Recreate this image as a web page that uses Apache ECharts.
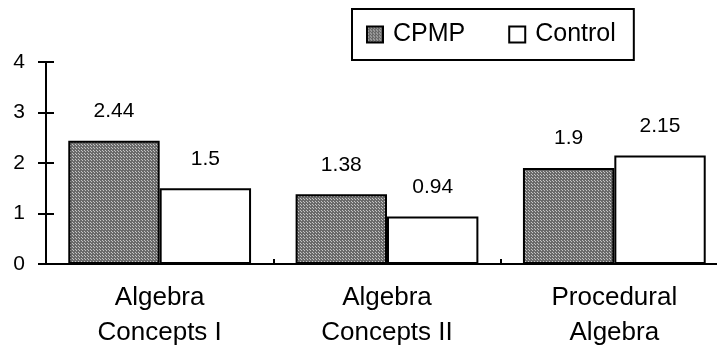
<!DOCTYPE html>
<html>
<head>
<meta charset="utf-8">
<script src="https://cdn.jsdelivr.net/npm/echarts@6/dist/echarts.min.js"></script>
<style>
    html, body { margin: 0; padding: 0; background: #fff; }
    #chart { width: 717px; height: 353px; }
</style>
</head>
<body>
<div id="chart"></div>
<script>
const categories = ["Algebra\nConcepts I", "Algebra\nConcepts II", "Procedural\nAlgebra"];
const cpmp = [2.44, 1.38, 1.9];
const control = [1.5, 0.94, 2.15];
const yTicks = [0, 1, 2, 3, 4];

// dotted grey fill like the old spreadsheet pattern
function makePattern() {
    const c = document.createElement("canvas");
    c.width = 3;
    c.height = 3;
    const ctx = c.getContext("2d");
    ctx.fillStyle = "#6a6a6a";
    ctx.fillRect(0, 0, 3, 3);
    ctx.fillStyle = "#c4c4c4";
    ctx.fillRect(1, 1, 1, 1);
    ctx.fillRect(0, 0, 1, 1);
    return { image: c, repeat: "repeat" };
}

const font = "Liberation Sans, Arial, sans-serif";
const gridW = 682;
const gridH = 202;
const chart = echarts.init(document.getElementById("chart"), null, { renderer: "canvas" });

const valueAxisBase = {
    type: "value",
    min: yTicks[0],
    max: yTicks[yTicks.length - 1],
    interval: 1,
    splitLine: { show: false },
};

const labelStyle = {
    show: true,
    position: "top",
    distance: 19,
    color: "#000",
    fontSize: 21,
    fontFamily: font,
};

chart.setOption({
    animation: false,
    legend: {
        left: 352,
        top: 9,
        padding: [13, 18, 13, 14],
        icon: "rect",
        itemWidth: 16,
        itemHeight: 16,
        itemGap: 43,
        borderColor: "#000",
        borderWidth: 2,
        textStyle: { color: "#000", fontSize: 25, fontFamily: font, padding: [0, 0, 0, 5] },
        data: ["CPMP", "Control"],
    },
    // the last category runs past the right edge of the picture, so no fitting
    grid: { left: 46, top: 62, width: gridW, height: gridH, outerBoundsMode: "none" },
    xAxis: [
        {
            type: "category",
            data: categories,
            position: "bottom",
            axisLine: { onZero: false, lineStyle: { color: "#000", width: 2 } },
            axisTick: { length: 8, lineStyle: { color: "#000", width: 2 } },
            axisLabel: {
                color: "#000",
                fontSize: 26,
                fontFamily: font,
                lineHeight: 35,
                margin: 16,
                interval: 0,
            },
        },
        {
            // second copy pulled down onto the baseline, for the upper half of the ticks
            type: "category",
            data: categories,
            position: "top",
            offset: -gridH,
            axisLine: { show: false, onZero: false },
            axisTick: { show: true, length: 5, lineStyle: { color: "#000", width: 2 } },
            axisLabel: { show: false },
        },
    ],
    yAxis: [
        Object.assign({}, valueAxisBase, {
            position: "left",
            axisLine: { show: true, onZero: false, lineStyle: { color: "#000", width: 2 } },
            axisTick: { show: true, length: 8, lineStyle: { color: "#000", width: 2 } },
            axisLabel: { color: "#000", fontSize: 21, fontFamily: font, margin: 21 },
        }),
        Object.assign({}, valueAxisBase, {
            // moved onto the left axis line, ticks pointing right
            position: "right",
            offset: -gridW,
            axisLine: { show: false, onZero: false },
            axisTick: { show: true, length: 8, lineStyle: { color: "#000", width: 2 } },
            axisLabel: { show: false },
        }),
    ],
    series: [
        {
            name: "CPMP",
            type: "bar",
            data: cpmp,
            barGap: "0%",
            barCategoryGap: "19.6%",
            itemStyle: { color: makePattern(), borderColor: "#000", borderWidth: 2 },
            label: labelStyle,
        },
        {
            name: "Control",
            type: "bar",
            data: control,
            itemStyle: { color: "#fff", borderColor: "#000", borderWidth: 2 },
            label: labelStyle,
        },
    ],
});
</script>
</body>
</html>
